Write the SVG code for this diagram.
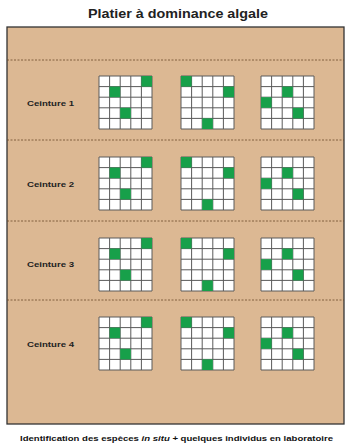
<svg xmlns="http://www.w3.org/2000/svg" xmlns:xlink="http://www.w3.org/1999/xlink" width="345" height="446" viewBox="0 0 345 446">
<style>
.title{font-family:"Liberation Sans",Arial,sans-serif;font-weight:bold;font-size:13px;fill:#222}
.lbl{font-family:"Liberation Sans",Arial,sans-serif;font-weight:bold;font-size:8px;fill:#222}
.foot{font-family:"Liberation Sans",Arial,sans-serif;font-weight:bold;font-size:7.5px;fill:#111}
.dash{stroke:#6b4a2a;stroke-width:0.8;stroke-dasharray:2,1.5;fill:none}
.g{fill:#17a04a}
</style>
<defs>
<g id="grid">
<rect x="0" y="0" width="53" height="53" fill="#ffffff"/>
<path d="M0,0H53V53H0Z M10.6,0V53 M21.2,0V53 M31.8,0V53 M42.4,0V53 M0,10.6H53 M0,21.2H53 M0,31.8H53 M0,42.4H53" fill="none" stroke="#5a5a5a" stroke-width="1"/>
</g>
<g id="A">
<use xlink:href="#grid"/>
<rect class="g" x="42.4" y="0" width="10.6" height="10.6"/>
<rect class="g" x="10.6" y="10.6" width="10.6" height="10.6"/>
<rect class="g" x="21.2" y="31.8" width="10.6" height="10.6"/>
</g>
<g id="B">
<use xlink:href="#grid"/>
<rect class="g" x="0" y="0" width="10.6" height="10.6"/>
<rect class="g" x="42.4" y="10.6" width="10.6" height="10.6"/>
<rect class="g" x="21.2" y="42.4" width="10.6" height="10.6"/>
</g>
<g id="C">
<use xlink:href="#grid"/>
<rect class="g" x="21.2" y="10.6" width="10.6" height="10.6"/>
<rect class="g" x="0" y="21.2" width="10.6" height="10.6"/>
<rect class="g" x="31.8" y="31.8" width="10.6" height="10.6"/>
</g>
</defs>
<rect width="345" height="446" fill="#ffffff"/>
<text class="title" x="88" y="18" textLength="180" lengthAdjust="spacingAndGlyphs">Platier à dominance algale</text>
<g id="platier">
<rect x="7" y="27" width="337" height="397" fill="#dcb893" stroke="#333" stroke-width="1.3"/>
</g>
<g id="connectors">
<line class="dash" x1="7" y1="60" x2="344" y2="60"/>
<line class="dash" x1="7" y1="140" x2="344" y2="140"/>
<line class="dash" x1="7" y1="221" x2="344" y2="221"/>
<line class="dash" x1="7" y1="300" x2="344" y2="300"/>
</g>
<g id="ceinture1">
<text class="lbl" x="27" y="106" textLength="47" lengthAdjust="spacingAndGlyphs">Ceinture 1</text>
<use xlink:href="#A" x="99" y="76"/>
<use xlink:href="#B" x="181" y="76"/>
<use xlink:href="#C" x="261" y="76"/>
</g>
<g id="ceinture2">
<text class="lbl" x="27" y="187" textLength="47" lengthAdjust="spacingAndGlyphs">Ceinture 2</text>
<use xlink:href="#A" x="99" y="157"/>
<use xlink:href="#B" x="181" y="157"/>
<use xlink:href="#C" x="261" y="157"/>
</g>
<g id="ceinture3">
<text class="lbl" x="27" y="267" textLength="47" lengthAdjust="spacingAndGlyphs">Ceinture 3</text>
<use xlink:href="#A" x="99" y="238"/>
<use xlink:href="#B" x="181" y="238"/>
<use xlink:href="#C" x="261" y="238"/>
</g>
<g id="ceinture4">
<text class="lbl" x="27" y="347" textLength="47" lengthAdjust="spacingAndGlyphs">Ceinture 4</text>
<use xlink:href="#A" x="99" y="317"/>
<use xlink:href="#B" x="181" y="317"/>
<use xlink:href="#C" x="261" y="317"/>
</g>
<text class="foot" x="20" y="441" textLength="313" lengthAdjust="spacingAndGlyphs">Identification des espèces <tspan font-style="italic">in situ</tspan>  + quelques individus en laboratoire</text>
</svg>
